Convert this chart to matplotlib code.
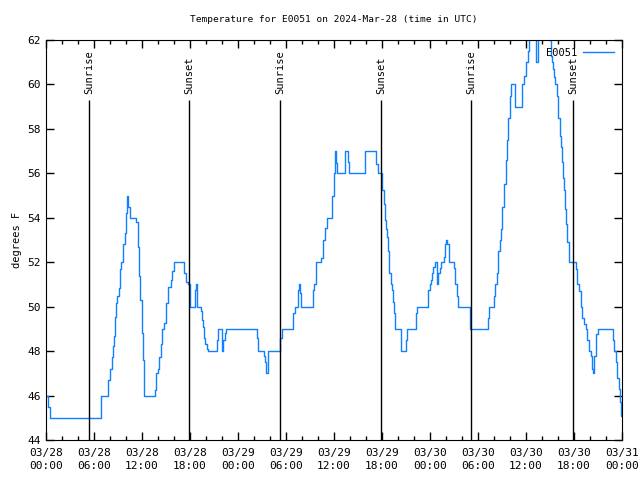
import numpy as np
import pandas as pd
import matplotlib
matplotlib.use('Agg')
import matplotlib.pyplot as plt
import matplotlib.dates as mdates

# hours since 2024-03-28 00:00 UTC and temperature (F) at each change
hours = [0.0, 0.3, 0.55, 6.92, 7.79, 8.0, 8.21, 8.33, 8.54, 8.67, 8.79, 8.92, 9.08, 9.29, 9.42,
         9.67, 9.83, 9.96, 10.12, 10.29, 10.5, 11.29, 11.46, 11.62, 11.79, 11.96, 12.12, 12.29,
         13.62, 13.79, 13.96, 14.17, 14.33, 14.54, 14.75, 15.0, 15.25, 15.58, 15.75, 16.0,
         17.29, 17.5, 17.75, 17.96, 18.62, 18.79, 18.87, 19.37, 19.5, 19.62, 19.75, 19.92,
         20.08, 20.25, 21.37, 21.54, 22.04, 22.17, 22.37, 22.54, 26.37, 26.54, 27.2, 27.37,
         27.54, 27.71, 29.29, 29.46, 30.92, 31.08, 31.54, 31.62, 31.75, 31.9, 33.33, 33.5,
         33.75, 34.33, 34.62, 34.92, 35.08, 35.71, 35.79, 35.96, 36.08, 36.2, 36.33, 37.33,
         37.75, 37.87, 39.92, 41.29, 41.46, 41.96, 42.25, 42.37, 42.5, 42.62, 42.8, 42.92,
         43.08, 43.25, 43.37, 43.5, 43.67, 44.33, 44.42, 45.0, 45.17, 46.29, 46.42, 47.8,
         47.96, 48.17, 48.3, 48.42, 48.67, 48.92, 49.04, 49.2, 49.42, 49.7, 49.83, 49.96,
         50.17, 50.33, 51.04, 51.17, 51.33, 51.54, 53.0, 55.29, 55.42, 56.04, 56.17, 56.33,
         56.54, 56.71, 56.87, 57.04, 57.29, 57.46, 57.62, 57.79, 57.96, 58.08, 58.6, 59.54,
         59.75, 60.0, 60.2, 60.42, 61.2, 61.46, 62.92, 63.08, 63.2, 63.33, 63.5, 63.62, 63.84,
         64.0, 64.2, 64.33, 64.46, 64.62, 64.75, 64.87, 65.0, 65.17, 65.33, 65.42, 66.29,
         66.42, 66.62, 66.83, 67.04, 67.25, 67.46, 67.67, 67.92, 68.08, 68.25, 68.42, 68.54,
         68.75, 68.96, 70.83, 70.96, 71.25, 71.42, 71.58, 71.75, 71.87, 71.95]
temps = [46, 45.5, 45, 46, 46.7, 47.2, 47.75, 48.24, 48.7, 49.55, 50.15, 50.5, 50.85, 51.7, 52,
         52.8, 53.3, 54.2, 55, 54.5, 54, 53.8, 52.7, 51.4, 50.3, 48.8, 47.6, 46,
         46.25, 47, 47.2, 47.75, 48.3, 49, 49.25, 50.15, 50.9, 51.2, 51.6, 52,
         51.5, 51.1, 51, 50, 50.75, 51, 50, 49.8, 49.4, 49.1, 48.6, 48.3,
         48.1, 48, 48.5, 49, 48, 48.5, 48.8, 49, 48.6, 48, 47.8, 47.5,
         47, 48, 48.6, 49, 49.7, 50, 50.75, 51, 50.6, 50, 50.75, 51,
         52, 52.2, 53, 53.55, 54, 54.5, 55, 56, 57, 56.45, 56, 57,
         56.5, 56, 57, 56.4, 56, 55.25, 54.6, 53.9, 53.5, 53.15, 52.5, 51.5,
         51, 50.75, 50.2, 49.7, 49, 48.65, 48, 48.5, 49, 49.7, 50, 50.75,
         51, 51.2, 51.5, 51.8, 52, 51, 51.5, 51.75, 52, 52.25, 52.8, 53,
         52.8, 52, 51.75, 51, 50.5, 50, 49, 49.5, 50, 50.5, 51, 51.5,
         52.5, 53, 53.5, 54.5, 55.5, 56.6, 57.5, 58.5, 59.5, 60, 59, 60,
         60.4, 61, 61.5, 62.5, 61, 62.5, 62, 61.3, 61, 60.7, 60.35, 60, 59.5,
         58.5, 57.7, 57.2, 56.5, 55.8, 55.25, 54.4, 53.7, 52.9, 52.3, 52, 51.7,
         51, 50.7, 50, 49.5, 49.2, 49, 48.5, 48, 47.8, 47.2, 47, 47.8,
         48.75, 49, 48.5, 48, 47.5, 46.8, 46.3, 45.7, 45.1, 45.1]

sun_labels = ['Sunrise', 'Sunset', 'Sunrise', 'Sunset', 'Sunrise', 'Sunset']
sun_hours = [5.4, 17.9, 29.25, 41.92, 53.17, 65.92]

start = pd.Timestamp('2024-03-28 00:00')
times = start + pd.to_timedelta(hours, unit='h')
sun_times = start + pd.to_timedelta(sun_hours, unit='h')

plt.rcParams['font.family'] = ['DejaVu Sans Mono']

fig = plt.figure(figsize=(6.4, 4.8), dpi=100)
ax = fig.add_axes([46 / 640, 40 / 480, 576 / 640, 400 / 480])

ax.plot(times, temps, drawstyle='steps-post', color='#1080ff', lw=1, label='E0051')

# sunrise / sunset markers
ax.vlines(sun_times, 44, 59.3, color='black', lw=1)
for t, lab in zip(sun_times, sun_labels):
    ax.text(t, 59.55, lab, rotation=90, ha='center', va='bottom', fontsize=7.5)

ax.set_xlim(start, start + pd.Timedelta(hours=72))
ax.set_ylim(44, 62)
ax.set_yticks(np.arange(44, 63, 2))
ax.xaxis.set_major_locator(mdates.HourLocator(byhour=[0, 6, 12, 18]))
ax.xaxis.set_minor_locator(mdates.HourLocator(interval=2))
ax.xaxis.set_major_formatter(mdates.DateFormatter('%m/%d\n%H:%M'))
ax.tick_params(which='both', direction='in', top=True, right=True, labelsize=8, width=1)
ax.tick_params(which='major', length=6)
ax.tick_params(which='minor', length=3)
ax.tick_params(axis='x', pad=6)
for lbl in ax.get_xticklabels():
    lbl.set_linespacing(1.35)

ax.set_title('Temperature for E0051 on 2024-Mar-28 (time in UTC)', fontsize=6.8, pad=13)
ax.set_ylabel('degrees F', fontsize=7.5)

ax.legend(loc='upper right', frameon=False, markerfirst=False, handlelength=3.0,
          fontsize=7.5, borderaxespad=0.35, handletextpad=0.5)

fig.savefig('out.png', dpi=100)
